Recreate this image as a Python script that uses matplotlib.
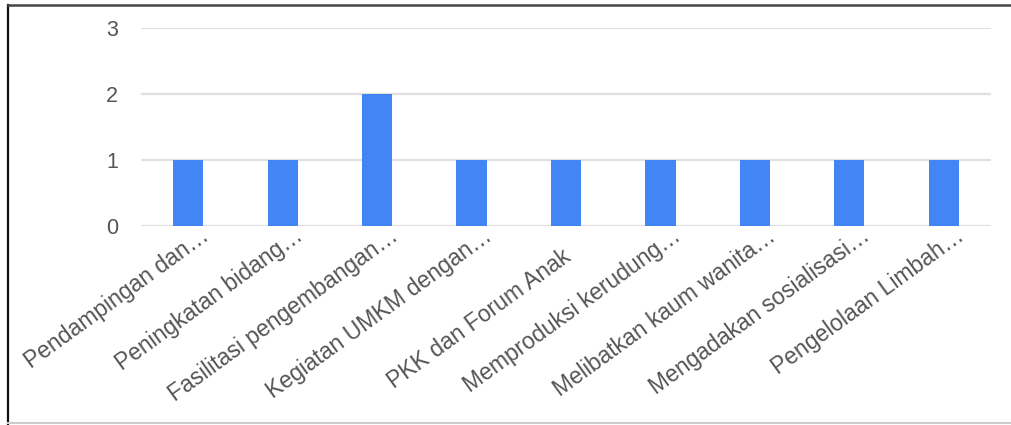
import matplotlib
matplotlib.use("Agg")
import matplotlib.pyplot as plt
from matplotlib.lines import Line2D

categories = [
    "Pendampingan dan…",
    "Peningkatan bidang…",
    "Fasilitasi pengembangan…",
    "Kegiatan UMKM dengan…",
    "PKK dan Forum Anak",
    "Memproduksi kerudung…",
    "Melibatkan kaum wanita…",
    "Mengadakan sosialisasi…",
    "Pengelolaan Limbah…",
]
values = [1, 1, 2, 1, 1, 1, 1, 1, 1]
yticks = [0, 1, 2, 3]

plt.rcParams['font.family'] = ['Liberation Sans', 'DejaVu Sans']

W, H = 1012, 425
PX = 0.72  # points per pixel at dpi 100
fig = plt.figure(figsize=(W / 100, H / 100), dpi=100)
ax = fig.add_axes([141 / W, (H - 226) / H, (991 - 141) / W, (226 - 28) / H])

x = list(range(len(categories)))
ax.bar(x, values, width=0.32, color="#4285F4", zorder=3)
ax.set_xlim(-0.5, len(categories) - 0.5)
ax.set_ylim(0, 3)
ax.set_yticks(yticks)
ax.set_yticklabels([str(v) for v in yticks], fontsize=15.5, color="#555555")
ax.tick_params(axis='y', length=0, pad=16.5)
for v in yticks:
    ax.axhline(v, color="#e0e0e0", lw=1.6, zorder=1)
for s in ax.spines.values():
    s.set_visible(False)
ax.set_xticks([])

for i, lab in enumerate(categories):
    if lab.endswith("…"):
        dx, dy = 22, -13
    else:
        dx, dy = 6, -34
    ax.annotate(lab, xy=(i, 0), xycoords='data',
                xytext=(dx * PX, dy * PX), textcoords='offset points',
                rotation=36, ha='right', va='baseline', rotation_mode='anchor',
                fontsize=16.5, color="#555555", annotation_clip=False)

# frame lines of the screenshot
fig.add_artist(Line2D([8 / W, 8 / W], [0, (H - 5) / H], color="#111111", lw=1.6))
fig.add_artist(Line2D([8 / W, 1], [(H - 5) / H, (H - 5) / H], color="#444444", lw=1.8))
fig.add_artist(Line2D([8 / W, 1], [2 / H, 2 / H], color="#cccccc", lw=1.5))

fig.savefig("out.png", dpi=100)
